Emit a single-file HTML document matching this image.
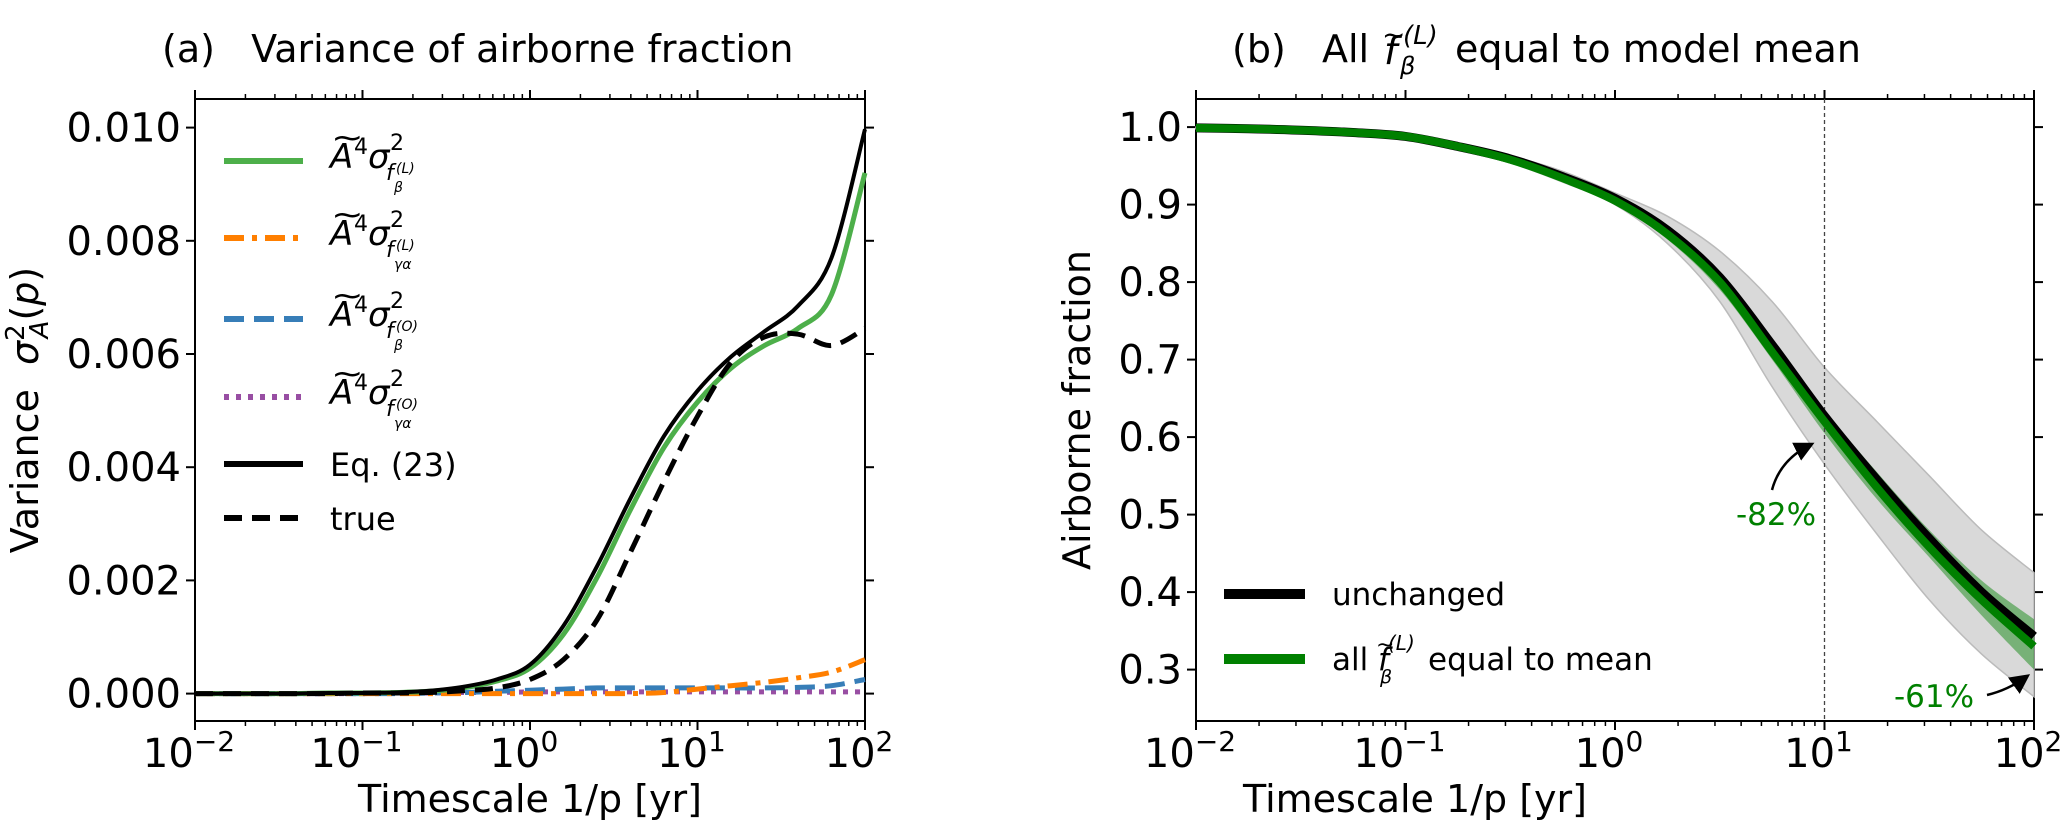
<!DOCTYPE html>
<html><head><meta charset="utf-8">
<style>
html,body{margin:0;padding:0;background:#fff;}
svg{display:block;font-family:"DejaVu Sans","Liberation Sans",sans-serif;}
</style></head>
<body>
<svg id="fig" width="2067" height="827" viewBox="0 0 2067 827" xmlns="http://www.w3.org/2000/svg"></svg>
<script>
// ---------- data ----------
const xLogA = [-2,-1.8,-1.6,-1.4,-1.2,-1.0,-0.8,-0.6,-0.4,-0.2,0,0.2,0.4,0.6,0.8,1.0,1.2,1.4,1.6,1.8,2.0];
const eq23 = [0,0,0,0,0.01,0.01,0.02,0.05,0.12,0.25,0.51,1.2,2.25,3.45,4.55,5.35,5.95,6.4,6.85,7.7,9.97];
const greenA = [0,0,0,0,0.01,0.01,0.02,0.04,0.1,0.22,0.45,1.05,2.05,3.25,4.35,5.15,5.75,6.15,6.45,7.05,9.2];
const trueA = [0,0,0,0,0,0.01,0.01,0.02,0.05,0.1,0.25,0.6,1.3,2.5,3.75,4.9,5.85,6.3,6.35,6.15,6.45];
const orangeA = [0,0,0,0,0,0,0,0,0,0,0,0,0,0,0.02,0.08,0.14,0.2,0.28,0.38,0.6];
const blueA = [0,0,0,0,0,0,0,0.01,0.02,0.04,0.06,0.08,0.1,0.1,0.1,0.1,0.1,0.1,0.11,0.14,0.25];
const purpleA = [0,0,0,0,0,0,0.01,0.01,0.02,0.02,0.03,0.03,0.03,0.03,0.03,0.03,0.03,0.03,0.03,0.03,0.03];
const yTicksA = ["0.000","0.002","0.004","0.006","0.008","0.010"];
const xTickExp = ["−2","−1","0","1","2"];

const xLogB = [-2,-1.75,-1.5,-1.25,-1,-0.75,-0.5,-0.25,0,0.25,0.5,0.75,1.0,1.25,1.5,1.75,2.0];
const unchanged = [0.999,0.998,0.996,0.993,0.988,0.975,0.959,0.936,0.908,0.867,0.806,0.719,0.627,0.545,0.469,0.40,0.343];
const meanLine = [0.999,0.998,0.996,0.993,0.988,0.975,0.958,0.934,0.905,0.862,0.80,0.71,0.62,0.535,0.458,0.39,0.33];
const bandHi = [1.0,0.999,0.997,0.994,0.989,0.978,0.963,0.943,0.915,0.885,0.84,0.775,0.69,0.62,0.55,0.48,0.425];
const bandLo = [0.998,0.997,0.995,0.992,0.986,0.972,0.954,0.929,0.90,0.85,0.775,0.665,0.565,0.475,0.39,0.32,0.265];
const gBandHi = [1.0,0.998,0.996,0.993,0.988,0.976,0.96,0.937,0.91,0.87,0.81,0.725,0.635,0.555,0.48,0.415,0.365];
const gBandLo = [0.998,0.997,0.995,0.992,0.987,0.974,0.956,0.931,0.90,0.855,0.79,0.70,0.605,0.52,0.445,0.37,0.30];
const yTicksB = ["0.3","0.4","0.5","0.6","0.7","0.8","0.9","1.0"];

// ---------- helpers ----------
const NS="http://www.w3.org/2000/svg";
const svg=document.getElementById('fig');
function mk(tag,attrs,parent){const e=document.createElementNS(NS,tag);for(const k in attrs)e.setAttribute(k,attrs[k]);(parent||svg).appendChild(e);return e;}
function txt(x,y,s,size,extra,parent){const e=mk('text',Object.assign({x:x,y:y,'font-size':size},extra||{}),parent);e.textContent=s;return e;}
function smooth(pts){let d="M"+pts[0][0].toFixed(1)+","+pts[0][1].toFixed(1);for(let i=0;i<pts.length-1;i++){const p0=pts[Math.max(0,i-1)],p1=pts[i],p2=pts[i+1],p3=pts[Math.min(pts.length-1,i+2)];const c1=[p1[0]+(p2[0]-p0[0])/6,p1[1]+(p2[1]-p0[1])/6],c2=[p2[0]-(p3[0]-p1[0])/6,p2[1]-(p3[1]-p1[1])/6];d+=` C${c1[0].toFixed(1)},${c1[1].toFixed(1)} ${c2[0].toFixed(1)},${c2[1].toFixed(1)} ${p2[0].toFixed(1)},${p2[1].toFixed(1)}`;}return d;}

const A={l:195,r:865,t:99,b:721};
const B={l:1196,r:2034,t:99,b:721};
const xa=v=>A.l+(v+2)/4*(A.r-A.l);
const yA=v=>693.6-v*56.6; // v in units of 1e-3
const xb=v=>B.l+(v+2)/4*(B.r-B.l);
const yb=v=>127.1+(1.0-v)*775;

function axesFrame(P,name){
  const g=mk('g',{});
  
  
  mk('rect',{x:P.l,y:P.t,width:P.r-P.l,height:P.b-P.t,fill:'none',stroke:'#000','stroke-width':2},g);
  return g;
}
function xTicks(P,xf,g,name){
  for(let k=-2;k<=2;k++){
    const x=xf(k);
    mk('line',{x1:x,y1:P.b,x2:x,y2:P.b+9,stroke:'#000','stroke-width':2},g);
    mk('line',{x1:x,y1:P.t,x2:x,y2:P.t-9,stroke:'#000','stroke-width':2},g);
    const t=mk('text',{x:x-6,y:767,'font-size':40,'text-anchor':'middle'},g);
    
    
    t.textContent='10';
    const s=mk('tspan',{dy:-16,'font-size':28},t);s.textContent=xTickExp[k+2];
    if(k<2)for(let m=2;m<10;m++){const xm=xf(k+Math.log10(m));
      mk('line',{x1:xm,y1:P.b,x2:xm,y2:P.b+5,stroke:'#000','stroke-width':1.5},g);
      mk('line',{x1:xm,y1:P.t,x2:xm,y2:P.t-5,stroke:'#000','stroke-width':1.5},g);}
  }
}
mk('defs',{}).innerHTML='<marker id="ah" markerWidth="8" markerHeight="8" refX="6" refY="4" orient="auto"><path d="M0,0 L8,4 L0,8 Z" fill="#000"/></marker>';

// ---------- panel a ----------
const ga=axesFrame(A,'panel-a');
xTicks(A,xa,ga,'panel-a');
yTicksA.forEach((lab,i)=>{const y=yA(i*2);
  mk('line',{x1:A.l,y1:y,x2:A.l-9,y2:y,stroke:'#000','stroke-width':2},ga);
  mk('line',{x1:A.r,y1:y,x2:A.r+9,y2:y,stroke:'#000','stroke-width':2},ga);
  const t=mk('text',{x:A.l-14,y:y+14,'font-size':40,'text-anchor':'end'},ga);
  
  
  t.textContent=lab;});
function seriesA(vals,attrs,name){const p=mk('path',Object.assign({d:smooth(xLogA.map((x,i)=>[xa(x),yA(vals[i])])),fill:'none'},attrs),ga);
  
  }
seriesA(purpleA,{stroke:'#984ea3','stroke-width':5,'stroke-dasharray':'5 7'},'series-purple-dotted');
seriesA(blueA,{stroke:'#377eb8','stroke-width':5,'stroke-dasharray':'20 10'},'series-blue-dashed');
seriesA(orangeA,{stroke:'#ff7f00','stroke-width':5,'stroke-dasharray':'20 8 5 8'},'series-orange-dashdot');
seriesA(greenA,{stroke:'#4daf4a','stroke-width':5},'series-green');
seriesA(eq23,{stroke:'#000','stroke-width':4},'series-eq23');
seriesA(trueA,{stroke:'#000','stroke-width':5,'stroke-dasharray':'18 10'},'series-true');

let t=txt(162,62,'(a)\u00a0\u00a0\u00a0Variance of airborne fraction',38);


t=txt(530,812,'Timescale 1/p [yr]',38,{'text-anchor':'middle'});


t=mk('text',{x:0,y:0,'font-size':38,'text-anchor':'middle',transform:'translate(38,410) rotate(-90)'});


t.textContent='Variance\u00a0\u00a0';
let ti=mk('tspan',{'font-style':'italic'},t);ti.textContent='σ';
ti=mk('tspan',{dy:-14,'font-size':26},t);ti.textContent='2';
ti=mk('tspan',{dy:24,dx:-14,'font-size':26,'font-style':'italic'},t);ti.textContent='A';
ti=mk('tspan',{dy:-10},t);ti.textContent='(';
ti=mk('tspan',{'font-style':'italic'},t);ti.textContent='p';
ti=mk('tspan',{},t);ti.textContent=')';

// legend a
const legA=[
 {y:161,stroke:'#4daf4a',dash:'',sup:'(L)',sub:'β'},
 {y:238,stroke:'#ff7f00',dash:'20 8 5 8',sup:'(L)',sub:'γα'},
 {y:319,stroke:'#377eb8',dash:'20 10',sup:'(O)',sub:'β'},
 {y:397,stroke:'#984ea3',dash:'5 7',sup:'(O)',sub:'γα'}];
legA.forEach((e,i)=>{
  const g=mk('g',{});
  
  
  mk('line',{x1:224,y1:e.y,x2:303,y2:e.y,stroke:e.stroke,'stroke-width':6,'stroke-dasharray':e.dash},g);
  const y=e.y+7;
  txt(330,y,'A',34,{'font-style':'italic'},g);
  txt(331,y-20,'~',30,{transform:`translate(${-331*0.3},0) scale(1.3,1)`},g);
  txt(354,y-14,'4',22,{},g);
  txt(368,y,'σ',34,{'font-style':'italic'},g);
  txt(390,y-18,'2',22,{},g);
  txt(386,y+12,'f',22,{'font-style':'italic'},g);
  txt(396,y+5,e.sup,14,{'font-style':'italic'},g);
  txt(394,y+24,e.sub,14,{'font-style':'italic'},g);
});
[[464,'','Eq. (23)','legend-entry-eq23'],[518,'18 10','true','legend-entry-true']].forEach(e=>{
  const g=mk('g',{});
  
  
  mk('line',{x1:224,y1:e[0],x2:303,y2:e[0],stroke:'#000','stroke-width':6,'stroke-dasharray':e[1]},g);
  txt(330,e[0]+12,e[2],32,{},g);
});

// ---------- panel b ----------
const gb=axesFrame(B,'panel-b');
xTicks(B,xb,gb,'panel-b');
yTicksB.forEach((lab,i)=>{const y=yb(0.3+i*0.1);
  mk('line',{x1:B.l,y1:y,x2:B.l-9,y2:y,stroke:'#000','stroke-width':2},gb);
  mk('line',{x1:B.r,y1:y,x2:B.r+9,y2:y,stroke:'#000','stroke-width':2},gb);
  const tt=mk('text',{x:B.l-14,y:y+14,'font-size':40,'text-anchor':'end'},gb);
  
  
  tt.textContent=lab;});
function band(hi,lo,attrs,name){
  const up=xLogB.map((x,i)=>[xb(x),yb(hi[i])]);
  const dn=xLogB.map((x,i)=>[xb(x),yb(lo[i])]).reverse();
  const d=smooth(up)+" L"+dn[0][0].toFixed(1)+","+dn[0][1].toFixed(1)+smooth(dn).replace(/^M[^C]*/,' ')+" Z";
  const p=mk('path',Object.assign({d:d},attrs),gb);
  
  
}
band(bandHi,bandLo,{fill:'#d9d9d9',stroke:'#bbbbbb','stroke-width':1.5},'spread-band-grey');
band(gBandHi,gBandLo,{fill:'rgba(0,128,0,0.45)',stroke:'none'},'spread-band-green');
let vl=mk('line',{x1:xb(1),y1:B.t,x2:xb(1),y2:B.b,stroke:'#444','stroke-width':1.3,'stroke-dasharray':'4 3'},gb);


function seriesB(vals,attrs,name){const p=mk('path',Object.assign({d:smooth(xLogB.map((x,i)=>[xb(x),yb(vals[i])])),fill:'none'},attrs),gb);
  
  }
seriesB(unchanged,{stroke:'#000','stroke-width':9},'series-unchanged');
seriesB(meanLine,{stroke:'#008000','stroke-width':8},'series-equal-to-mean');

const ann=mk('g',{});


mk('path',{d:'M1772,490 Q1780,460 1810,445',fill:'none',stroke:'#000','stroke-width':2.5,'marker-end':'url(#ah)'},ann);
mk('path',{d:'M1987,695 Q2008,690 2026,677',fill:'none',stroke:'#000','stroke-width':2.5,'marker-end':'url(#ah)'},ann);
txt(1776,525,'-82%',31,{'text-anchor':'middle',fill:'#008000'},ann);
txt(1934,707,'-61%',31,{'text-anchor':'middle',fill:'#008000'},ann);

// title b
const tb=mk('g',{});


txt(1232,62,'(b)\u00a0\u00a0\u00a0All',38,{},tb);
txt(1384,64,'f',38,{'font-style':'italic'},tb);
txt(1382,44,'~',28,{},tb);
txt(1403,44,'(L)',26,{'font-style':'italic'},tb);
txt(1400,74,'β',24,{'font-style':'italic'},tb);
txt(1455,62,'equal to model mean',38,{},tb);

t=txt(1415,812,'Timescale 1/p [yr]',38,{'text-anchor':'middle'});


t=mk('text',{x:0,y:0,'font-size':38,'text-anchor':'middle',transform:'translate(1090,410) rotate(-90)'});


t.textContent='Airborne fraction';

// legend b
let lg=mk('g',{});


mk('line',{x1:1224,y1:594,x2:1305,y2:594,stroke:'#000','stroke-width':10},lg);
txt(1332,605,'unchanged',31,{},lg);
lg=mk('g',{});


mk('line',{x1:1224,y1:659,x2:1305,y2:659,stroke:'#008000','stroke-width':10},lg);
txt(1332,670,'all',31,{},lg);
txt(1378,670,'f',31,{'font-style':'italic'},lg);
txt(1376,652,'~',22,{},lg);
txt(1388,650,'(L)',20,{'font-style':'italic'},lg);
txt(1380,683,'β',19,{'font-style':'italic'},lg);
txt(1428,670,'equal to mean',31,{},lg);
</script>
</body></html>
